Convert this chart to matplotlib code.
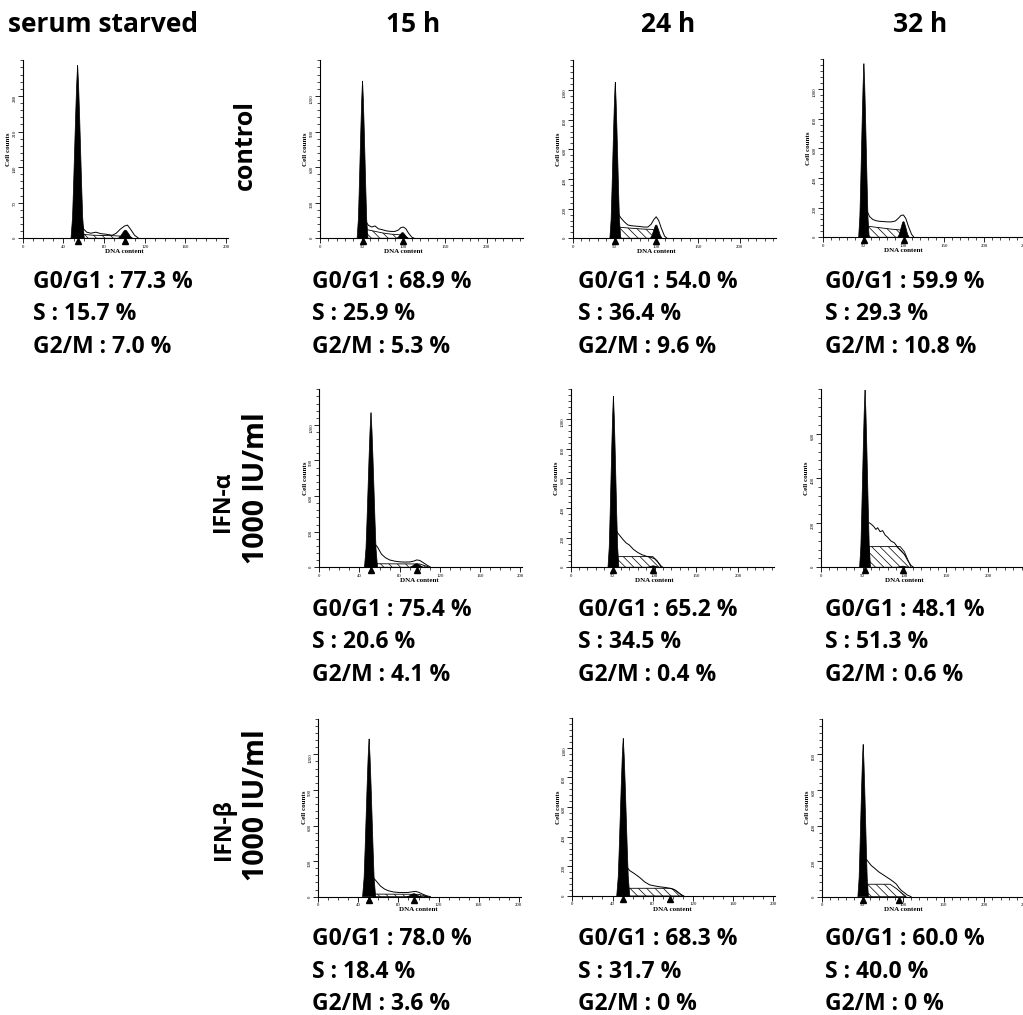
import matplotlib
matplotlib.use("Agg")
import matplotlib.pyplot as plt
import matplotlib.transforms as mtransforms
from matplotlib.ticker import MultipleLocator

# -----------------------------
# Data
# -----------------------------

PANELS = ["serum", "ctrl_15", "ctrl_24", "ctrl_32",
          "ifna_15", "ifna_24", "ifna_32",
          "ifnb_15", "ifnb_24", "ifnb_32"]

G0G1_PCT = ["77.3", "68.9", "54.0", "59.9", "75.4", "65.2", "48.1", "78.0", "68.3", "60.0"]
S_PCT = ["15.7", "25.9", "36.4", "29.3", "20.6", "34.5", "51.3", "18.4", "31.7", "40.0"]
G2M_PCT = ["7.0", "5.3", "9.6", "10.8", "4.1", "0.4", "0.6", "3.6", "0", "0"]

# G1 / G2 peak channel and height (cell counts)
G1_POS = [54, 51, 51, 51, 51.5, 51, 53, 50.7, 50.7, 51]
G1_PEAK = [340, 1326, 1052, 1171, 1304, 1153, 797, 1330, 1063, 856]
G2_POS = [101, 99, 100, 100, 97, 98.5, 98, 95.5, 97, 95]
G2_PEAK = [16, 48, 90, 106, 30, 10, 5, 25, 0, 0]

# peak profile (channel offset, fraction of peak height)
G1_SHAPE_DX = [-6.5, -5, -4, -3, -2, -1, -0.3, 0, 0.3, 1, 2, 3, 4, 5, 6.5]
G1_SHAPE_FR = [0, 0.12, 0.3, 0.5, 0.7, 0.88, 0.97, 1, 0.97, 0.88, 0.7, 0.5, 0.3, 0.12, 0]
G2_SHAPE_DX = [-7, -5, -3, -1, 0, 1, 3, 5, 7]
G2_SHAPE_FR = [0, 0.2, 0.6, 0.95, 1, 0.95, 0.6, 0.2, 0]

# total histogram envelope right of the G1 peak (channel, counts)
ENV_SERUM = [(58, 30), (60, 18), (63, 12), (67, 10), (72, 12), (77, 9), (82, 8), (88, 6),
             (92, 10), (96, 18), (100, 24), (103, 26), (106, 18), (110, 6), (114, 0)]
ENV_CTRL_15 = [(55, 140), (58, 110), (62, 95), (66, 104), (70, 80), (75, 72), (80, 62), (85, 58),
               (90, 58), (94, 70), (97, 90), (100, 95), (103, 80), (106, 45), (110, 10), (113, 0)]
ENV_CTRL_24 = [(55, 160), (58, 135), (62, 110), (66, 90), (70, 85), (75, 82), (80, 80), (85, 76),
               (90, 76), (94, 95), (97, 125), (100, 145), (103, 120), (106, 70), (110, 15), (113, 0)]
ENV_CTRL_32 = [(55, 175), (58, 140), (62, 120), (66, 112), (70, 108), (75, 106), (80, 104), (85, 104),
               (90, 110), (94, 130), (97, 148), (100, 150), (103, 125), (106, 75), (110, 20), (113, 0)]
ENV_IFNA_15 = [(56, 190), (58, 170), (62, 110), (66, 80), (70, 62), (75, 52), (80, 46), (85, 44),
               (90, 45), (94, 52), (97, 62), (100, 58), (103, 42), (107, 20), (111, 0)]
ENV_IFNA_24 = [(55, 240), (57, 225), (62, 190), (66, 165), (70, 150), (75, 120), (80, 100),
               (85, 85), (90, 75), (95, 68), (100, 58), (104, 35), (108, 8), (110, 0)]
ENV_IFNA_32 = [(58, 200), (60, 195), (63, 185), (66, 170), (68, 178), (71, 160), (74, 165),
               (77, 145), (80, 135), (84, 118), (88, 110), (92, 90), (96, 75), (100, 58),
               (104, 30), (108, 8), (111, 0)]
ENV_IFNB_15 = [(55, 160), (57, 140), (62, 90), (66, 65), (70, 50), (75, 40), (80, 36), (85, 35),
               (90, 36), (94, 42), (97, 45), (100, 38), (104, 22), (108, 8), (112, 0)]
ENV_IFNB_24 = [(55, 190), (57, 172), (62, 150), (67, 125), (72, 95), (77, 75), (82, 68),
               (87, 62), (92, 58), (97, 52), (101, 45), (104, 30), (108, 10), (111, 0)]
ENV_IFNB_32 = [(55, 210), (57, 198), (61, 175), (65, 160), (70, 140), (75, 125), (80, 110),
               (84, 98), (88, 85), (92, 70), (95, 50), (98, 35), (101, 25), (105, 10), (110, 0)]

# fitted S-phase area (hatched)
S_SERUM = [(57, 0), (57, 8), (70, 6), (90, 5), (100, 4), (108, 0)]
S_CTRL_15 = [(55, 0), (55, 75), (65, 60), (75, 45), (85, 35), (95, 30), (100, 25), (106, 0)]
S_CTRL_24 = [(55, 0), (55, 75), (70, 68), (85, 62), (95, 60), (100, 50), (106, 0)]
S_CTRL_32 = [(55, 0), (55, 75), (70, 65), (85, 55), (95, 50), (100, 40), (106, 0)]
S_IFNA_15 = [(56, 0), (56, 30), (100, 28), (110, 0)]
S_IFNA_24 = [(56, 0), (56, 72), (98, 72), (103, 45), (108, 0)]
S_IFNA_32 = [(58, 0), (58, 93), (95, 93), (100, 70), (108, 0)]
S_IFNB_15 = [(55, 0), (55, 22), (100, 20), (110, 0)]
S_IFNB_24 = [(55, 0), (55, 52), (98, 52), (103, 38), (110, 0)]
S_IFNB_32 = [(56, 0), (56, 70), (84, 70), (92, 45), (104, 0)]

ENVELOPES = [ENV_SERUM, ENV_CTRL_15, ENV_CTRL_24, ENV_CTRL_32, ENV_IFNA_15,
             ENV_IFNA_24, ENV_IFNA_32, ENV_IFNB_15, ENV_IFNB_24, ENV_IFNB_32]
S_AREAS = [S_SERUM, S_CTRL_15, S_CTRL_24, S_CTRL_32, S_IFNA_15,
           S_IFNA_24, S_IFNA_32, S_IFNB_15, S_IFNB_24, S_IFNB_32]

# axis scales of each panel
X_MAX = [202, 243, 243, 255, 202, 243, 243, 202, 202, 255]
X_STEP = [40, 50, 50, 50, 40, 50, 50, 40, 40, 50]
Y_MAX = [350, 1500, 1200, 1200, 1500, 1200, 800, 1500, 1200, 1000]
Y_STEP = [70, 300, 200, 200, 300, 200, 200, 300, 200, 200]

COL_TITLES = ["serum starved", "15 h", "24 h", "32 h"]
ROW_TITLES = ["control", "IFN-α", "1000 IU/ml", "IFN-β", "1000 IU/ml"]

# -----------------------------
# Layout (pixels)
# -----------------------------

W, H, DPI = 1023, 1015, 100
X_ORIGIN = [22.7, 320, 572.7, 822.7, 319.3, 570.7, 820.7, 318.3, 572.3, 821.7]
AXIS_Y = [238.3, 238.3, 238.3, 237.3, 567.3, 567.3, 567.3, 896.7, 896, 896.7]
PX_PER_UNIT = [1.017, 0.834, 0.835, 0.808, 1.004, 0.838, 0.837, 1.002, 1.005, 0.813]
AX_HEIGHT = 178
TEXT_X = [33, 312, 578, 825, 312, 578, 825, 312, 578, 825]
TEXT_Y = [282, 282, 282, 282, 610, 610, 610, 939, 939, 939]
LINE_GAP = 32.5
ROW_POS = [(245, 145, 18), (223, 502, 16.5), (256, 488, 20.5), (224, 830, 16.5), (256, 805, 20.5)]

plt.rcParams["font.family"] = ["Liberation Serif", "DejaVu Serif"]
plt.rcParams["hatch.linewidth"] = 0.5
BIG_FONT = ["Open Sans", "DejaVu Sans"]

fig = plt.figure(figsize=(W / DPI, H / DPI), dpi=DPI)

# -----------------------------
# Histogram panels
# -----------------------------

for i, name in enumerate(PANELS):
    ax = fig.add_axes([X_ORIGIN[i] / W, 1 - AXIS_Y[i] / H,
                       X_MAX[i] * PX_PER_UNIT[i] / W, AX_HEIGHT / H])

    sx = [p[0] for p in S_AREAS[i]]
    sy = [p[1] for p in S_AREAS[i]]
    ax.fill(sx, sy, facecolor="white", edgecolor="black", hatch="\\\\\\\\", lw=0.6, zorder=1)

    g1x = [G1_POS[i] + d for d in G1_SHAPE_DX]
    g1y = [G1_PEAK[i] * f for f in G1_SHAPE_FR]
    ax.fill(g1x, g1y, color="black", lw=0.5, zorder=2)

    if G2_PEAK[i] > 0:
        g2x = [G2_POS[i] + d for d in G2_SHAPE_DX]
        g2y = [G2_PEAK[i] * f for f in G2_SHAPE_FR]
        ax.fill(g2x, g2y, color="black", lw=0.5, zorder=2)

    ex = [p[0] for p in ENVELOPES[i]]
    ey = [p[1] for p in ENVELOPES[i]]
    ax.plot(ex, ey, color="black", lw=0.7, zorder=3)

    # channel markers under the axis
    tri = mtransforms.offset_copy(ax.transData, fig=fig, y=-3, units="dots")
    ax.plot([G1_POS[i], G2_POS[i]], [0, 0], ls="none", marker="^", ms=5,
            color="black", transform=tri, clip_on=False, zorder=4)

    ax.set_xlim(0, X_MAX[i])
    ax.set_ylim(0, Y_MAX[i])
    ax.set_xticks(range(0, X_MAX[i] + 1, X_STEP[i]))
    ax.set_yticks(range(0, Y_MAX[i], Y_STEP[i]))
    ax.xaxis.set_minor_locator(MultipleLocator(10))
    ax.yaxis.set_minor_locator(MultipleLocator(Y_STEP[i] / 5))
    ax.tick_params(which="major", length=3.5, width=0.6, labelsize=3.5, pad=1)
    ax.tick_params(which="minor", length=2, width=0.5)
    ax.tick_params(axis="y", labelrotation=90)
    for side in ["top", "right"]:
        ax.spines[side].set_visible(False)
    for side in ["left", "bottom"]:
        ax.spines[side].set_linewidth(0.8)
    ax.patch.set_alpha(0)

    ax.set_ylabel("Cell counts", fontsize=5, fontweight="bold", labelpad=1)
    ax.set_xlabel("DNA content", fontsize=5, fontweight="bold")
    ax.xaxis.set_label_coords(100 / X_MAX[i], -0.06)

    # phase percentages
    for k, txt in enumerate([f"G0/G1 : {G0G1_PCT[i]} %", f"S : {S_PCT[i]} %",
                             f"G2/M : {G2M_PCT[i]} %"]):
        fig.text(TEXT_X[i] / W, 1 - (TEXT_Y[i] + k * LINE_GAP) / H, txt,
                 family=BIG_FONT, fontweight="bold", fontsize=16.5,
                 ha="left", va="center")

# -----------------------------
# Titles
# -----------------------------

for title, cx in zip(COL_TITLES, [103, 413, 668, 920]):
    fig.text(cx / W, 1 - 25 / H, title, family=BIG_FONT, fontweight="bold",
             fontsize=19, ha="center", va="center")

for title, (cx, cy, fs) in zip(ROW_TITLES, ROW_POS):
    fig.text(cx / W, 1 - cy / H, title, family=BIG_FONT, fontweight="bold",
             fontsize=fs, rotation=90, ha="center", va="center")

fig.savefig("out.png", dpi=DPI)
